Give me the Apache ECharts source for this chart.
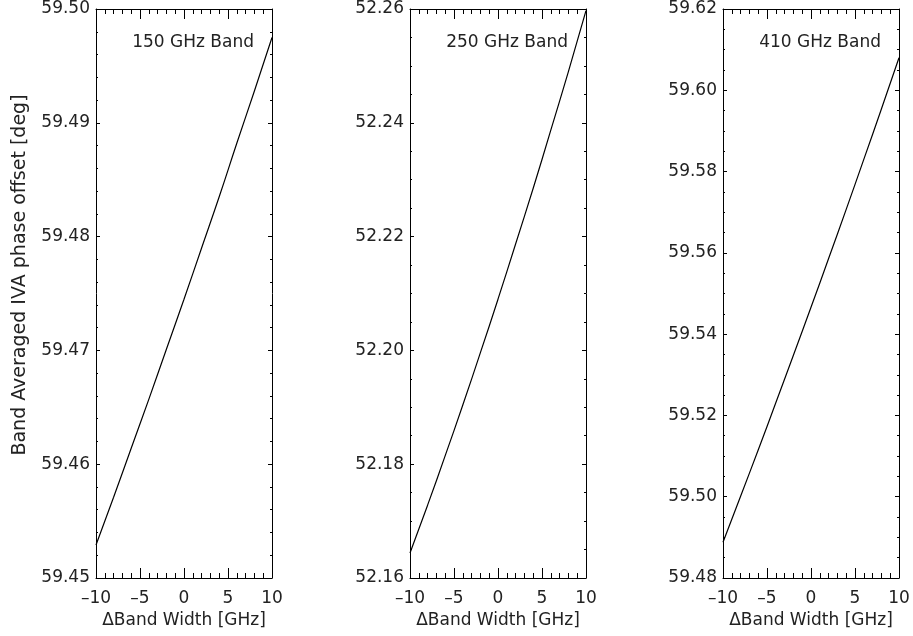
<!DOCTYPE html>
<html>
<head>
<meta charset="utf-8">
<script src="https://cdn.jsdelivr.net/npm/echarts@6/dist/echarts.min.js"></script>
<style>
  html, body { margin: 0; padding: 0; background: #fff; }
  #chart { width: 913px; height: 636px; }
</style>
</head>
<body>
<div id="chart"></div>
<script>
// Band width offset (GHz) sampled for every band
const deltaBandWidth = [-10, -8, -6, -4, -2, 0, 2, 4, 6, 8, 10];

// Band averaged IVA phase offset (deg) for each band
const phase150 = [59.4529, 59.4571, 59.4614, 59.4657, 59.4701, 59.4745, 59.4790, 59.4835, 59.4882, 59.4928, 59.4975];
const phase250 = [52.1644, 52.1728, 52.1815, 52.1904, 52.1996, 52.2090, 52.2187, 52.2285, 52.2387, 52.2490, 52.2597];
const phase410 = [59.4888, 59.5001, 59.5115, 59.5231, 59.5348, 59.5466, 59.5586, 59.5707, 59.5830, 59.5954, 59.6080];

const bandNames = ['150 GHz Band', '250 GHz Band', '410 GHz Band'];

// Y-axis ranges: [min, max, interval, minor divisions]
const yRange150 = [59.45, 59.50, 0.01, 5];
const yRange250 = [52.16, 52.26, 0.02, 4];
const yRange410 = [59.48, 59.62, 0.02, 4];

const xRange = [-10, 10, 5, 5];

const xTitle = 'ΔBand Width [GHz]';
const yTitle = 'Band Averaged IVA phase offset [deg]';

const panels = [
  { values: phase150, yr: yRange150, left: 96 },
  { values: phase250, yr: yRange250, left: 410 },
  { values: phase410, yr: yRange410, left: 723 }
];

const FONT = 'DejaVu Sans';
const INK = '#000';
const TEXT = '#222';
const TOP = 9, HEIGHT = 569, WIDTH = 176;

const grids = [], xAxes = [], yAxes = [], series = [], graphics = [];

panels.forEach((p, i) => {
  grids.push({ left: p.left, top: TOP, width: WIDTH, height: HEIGHT, containLabel: false });

  const xCommon = {
    type: 'value', gridIndex: i,
    min: xRange[0], max: xRange[1], interval: xRange[2],
    axisLine: { show: true, onZero: false, lineStyle: { color: INK, width: 1 } },
    axisTick: { show: true, inside: true, length: 10, lineStyle: { color: INK, width: 1 } },
    minorTick: { show: true, splitNumber: xRange[3], length: 5, lineStyle: { color: INK, width: 1 } },
    splitLine: { show: false }
  };
  xAxes.push(Object.assign({}, xCommon, {
    position: 'bottom',
    name: xTitle, nameLocation: 'middle', nameGap: 33,
    nameTextStyle: { fontFamily: FONT, fontSize: 17, color: TEXT },
    axisLabel: {
      show: true, margin: 12, fontFamily: FONT, fontSize: 17, color: TEXT,
      formatter: v => (v < 0 ? '\u2013' + Math.abs(v) : String(v))
    }
  }));
  xAxes.push(Object.assign({}, xCommon, {
    position: 'top', axisLabel: { show: false }
  }));

  const yCommon = {
    type: 'value', gridIndex: i,
    min: p.yr[0], max: p.yr[1], interval: p.yr[2],
    axisLine: { show: true, onZero: false, lineStyle: { color: INK, width: 1 } },
    axisTick: { show: true, inside: true, length: 4, lineStyle: { color: INK, width: 1 } },
    minorTick: { show: true, splitNumber: p.yr[3], length: 2, lineStyle: { color: INK, width: 1 } },
    splitLine: { show: false }
  };
  yAxes.push(Object.assign({}, yCommon, {
    position: 'left',
    axisLabel: {
      show: true, margin: 6, fontFamily: FONT, fontSize: 17, color: TEXT,
      formatter: v => v.toFixed(2)
    }
  }));
  yAxes.push(Object.assign({}, yCommon, {
    position: 'right', axisLabel: { show: false }
  }));

  series.push({
    type: 'line',
    xAxisIndex: 2 * i, yAxisIndex: 2 * i,
    data: deltaBandWidth.map((x, k) => [x, p.values[k]]),
    smooth: true,
    showSymbol: false,
    lineStyle: { color: INK, width: 1.2 },
    silent: true
  });

  graphics.push({
    type: 'text',
    x: p.left + WIDTH - 18, y: 43,
    style: { text: bandNames[i], fontFamily: FONT, fontSize: 17, fill: TEXT, align: 'right', verticalAlign: 'middle' }
  });
});

// Shared vertical title on the left edge
graphics.push({
  type: 'text',
  x: 20, y: 275,
  rotation: Math.PI / 2,
  style: { text: yTitle, fontFamily: FONT, fontSize: 19, fill: TEXT, align: 'center', verticalAlign: 'middle' }
});

const chart = echarts.init(document.getElementById('chart'), null, { renderer: 'canvas' });
chart.setOption({
  animation: false,
  backgroundColor: '#fff',
  grid: grids,
  xAxis: xAxes,
  yAxis: yAxes,
  series: series,
  graphic: graphics
});
</script>
</body>
</html>
